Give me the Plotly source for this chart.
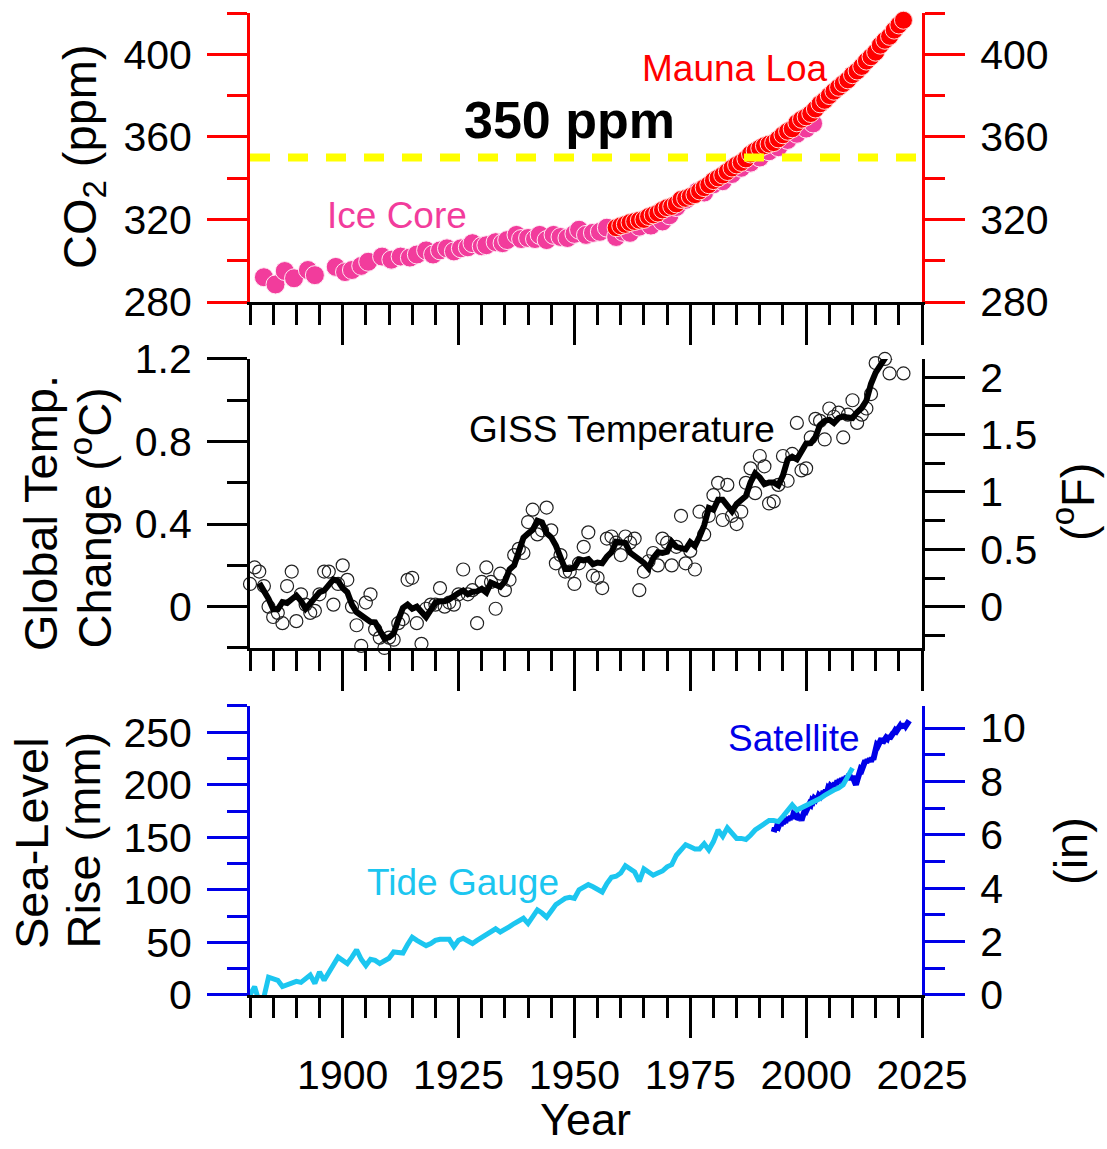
import numpy as np
import plotly.graph_objects as go

# ---------------- DATA ----------------
# CO2 (ppm) - ice core (pink) and Mauna Loa (red)
ice_years = [1883.0, 1885.5, 1887.5, 1889.5, 1892.5, 1894.0, 1898.5, 1900.5, 1902.0, 1904.0,
             1905.5, 1908.5, 1910.5, 1912.5, 1914.5, 1916.0, 1918.0, 1919.5, 1921.0, 1922.5,
             1924.0, 1925.5, 1927.0, 1928.0, 1930.0, 1931.0, 1933.0, 1934.5, 1935.5, 1937.5,
             1938.5, 1940.0, 1941.5, 1942.5, 1944.0, 1945.5, 1947.0, 1948.5, 1950.0, 1951.0,
             1952.5, 1954.0, 1955.5, 1957.0, 1959.0, 1960.5, 1962.0, 1964.0, 1966.5, 1969.0,
             1970.5, 1972.0, 1974.0, 1976.5, 1978.0, 1980.0, 1982.0, 1984.0, 1986.0, 1988.0,
             1990.0, 1992.0, 1994.0, 1996.0, 1998.0, 2000.0, 2001.5]
ice_co2 = [292.0, 288.5, 295.0, 291.5, 295.5, 293.0, 297.0, 294.5, 295.5, 297.5,
           299.5, 302.0, 300.5, 302.0, 301.5, 303.0, 305.0, 303.0, 305.0, 306.0,
           304.5, 306.0, 306.5, 308.5, 307.0, 307.5, 309.0, 308.5, 310.0, 312.5,
           310.5, 311.0, 310.5, 312.5, 310.0, 312.5, 311.5, 311.0, 313.0, 315.0,
           312.5, 313.5, 314.0, 316.0, 311.5, 314.0, 313.5, 316.5, 317.0, 319.0,
           322.0, 326.0, 329.5, 333.5, 333.0, 337.0, 338.5, 342.0, 345.0, 347.5,
           350.0, 353.0, 355.0, 358.5, 361.5, 364.0, 366.5]

ml_years = list(range(1959, 2022))
ml_co2 = [316.0, 316.9, 317.6, 318.5, 319.0, 319.6, 320.0, 321.4, 322.2, 323.1,
          324.6, 325.7, 326.3, 327.5, 329.7, 330.2, 331.1, 332.0, 333.8, 335.4,
          336.8, 338.8, 340.1, 341.5, 343.2, 344.9, 346.4, 347.6, 349.3, 351.7,
          353.2, 354.5, 355.7, 356.5, 357.2, 359.0, 361.0, 362.7, 363.9, 366.8,
          368.5, 369.7, 371.3, 373.5, 376.0, 377.7, 380.0, 382.1, 384.0, 385.8,
          387.6, 390.1, 391.9, 394.1, 396.7, 398.8, 401.0, 404.4, 406.8, 408.7,
          411.7, 414.2, 416.5]
co2_target = 350

# Global temperature change (deg C), GISS annual values
temp_years = list(range(1880, 2022))
temp_anom = [0.11, 0.19, 0.17, 0.10, 0.00, -0.05, -0.03, -0.08, 0.10, 0.17,
             -0.07, 0.06, 0.01, -0.03, -0.02, 0.06, 0.17, 0.17, 0.01, 0.11,
             0.20, 0.13, 0.00, -0.09, -0.19, 0.02, 0.06, -0.11, -0.15, -0.20,
             -0.15, -0.16, -0.08, -0.06, 0.13, 0.14, -0.08, -0.18, -0.01, 0.01,
             0.01, 0.09, 0.00, 0.02, 0.01, 0.06, 0.18, 0.06, 0.08, -0.08,
             0.12, 0.19, 0.12, -0.01, 0.16, 0.08, 0.13, 0.25, 0.28, 0.26,
             0.41, 0.47, 0.35, 0.37, 0.48, 0.37, 0.21, 0.25, 0.17, 0.17,
             0.11, 0.21, 0.29, 0.36, 0.15, 0.14, 0.09, 0.33, 0.34, 0.31,
             0.25, 0.34, 0.31, 0.33, 0.08, 0.17, 0.22, 0.26, 0.20, 0.33,
             0.31, 0.20, 0.29, 0.44, 0.21, 0.27, 0.18, 0.46, 0.35, 0.44,
             0.54, 0.60, 0.42, 0.59, 0.44, 0.40, 0.46, 0.60, 0.67, 0.55,
             0.73, 0.68, 0.50, 0.51, 0.59, 0.73, 0.61, 0.74, 0.89, 0.66,
             0.67, 0.82, 0.91, 0.90, 0.81, 0.96, 0.92, 0.94, 0.82, 0.93,
             1.00, 0.89, 0.93, 0.96, 1.03, 1.18, 1.30, 1.20, 1.13, 1.26,
             1.30, 1.13]
smooth_window = 5  # the black curve is the 5-year running mean of the annual values

# Sea-level rise (mm)
tide_years = list(range(1880, 2011))
tide_mm = [0, 8, -7, -2, 17, 16, 14, 8, 10, 12,
           13, 12, 15, 19, 11, 22, 14, 22, 30, 36,
           33, 30, 36, 43, 34, 28, 34, 33, 30, 32,
           35, 41, 40, 40, 48, 55, 52, 50, 47, 49,
           52, 53, 53, 53, 46, 52, 54, 51, 49, 52,
           55, 57, 60, 63, 60, 62, 65, 68, 70, 73,
           68, 74, 81, 78, 74, 80, 86, 89, 92, 93,
           92, 100, 103, 105, 103, 101, 98, 106, 112, 113,
           116, 123, 120, 117, 108, 120, 117, 114, 116, 118,
           122, 124, 133, 138, 143, 141, 139, 139, 144, 138,
           146, 157, 151, 159, 154, 149, 149, 148, 152, 157,
           160, 163, 166, 166, 165, 170, 176, 181, 176, 178,
           181, 183, 185, 187, 190, 193, 195, 197, 200, 208,
           216]

sat_start, sat_step = 1993.0, 0.25
sat_mm = [155, 159, 157, 161, 160, 163, 161, 165, 163, 166, 164, 168,
          166, 169, 167, 170, 168, 172, 171, 174, 172, 170, 167, 169,
          166, 170, 172, 176, 175, 179, 178, 182, 181, 185, 184, 187,
          186, 189, 187, 190, 189, 192, 190, 194, 192, 195, 193, 197,
          196, 199, 198, 201, 199, 202, 200, 204, 202, 205, 203, 206,
          204, 207, 205, 208, 206, 210, 208, 205, 208, 206, 202, 200,
          204, 209, 212, 215, 214, 218, 220, 223, 221, 224, 222, 225,
          222, 226, 224, 230, 233, 238, 237, 241, 242, 244, 240, 243,
          242, 245, 244, 247, 244, 247, 246, 249, 250, 252, 251, 254,
          253, 256, 254, 257, 255, 258, 256, 259, 258, 261]
sat_years = [sat_start + sat_step * i for i in range(len(sat_mm))]

# Axes / ticks
x_range = [1880, 2025]
x_major = [1900, 1925, 1950, 1975, 2000, 2025]
co2_range = [280, 420]
co2_major = [280, 320, 360, 400]
co2_minor = [300, 340, 380, 420]
temp_range = [-0.2, 1.2]
temp_major = [0, 0.4, 0.8, 1.2]
temp_major_text = ["0", "0.4", "0.8", "1.2"]
temp_minor = [-0.2, 0.2, 0.6, 1.0]
degF_major = [0, 0.5, 1, 1.5, 2]
degF_major_text = ["0", "0.5", "1", "1.5", "2"]
degF_minor = [-0.25, 0.25, 0.75, 1.25, 1.75]
sea_range = [0, 275]
sea_major = [0, 50, 100, 150, 200, 250]
sea_minor = [25, 75, 125, 175, 225, 275]
in_major = [0, 2, 4, 6, 8, 10]
in_minor = [1, 3, 5, 7, 9]
C_TO_F = 1.8
MM_PER_IN = 25.4

# ---------------- STYLE ----------------
FONT = "Arial, Liberation Sans, sans-serif"
RED = "#FF0000"
PINK = "#F23C9C"
BLUE = "#0000E8"
CYAN = "#1CC6F0"
YELLOW = "#FFFF00"
TICK_FS = 41
TITLE_FS = 47
LBL_FS = 37

temp_smooth = np.convolve(np.array(temp_anom), np.ones(smooth_window) / smooth_window, mode="valid")
half = smooth_window // 2
temp_smooth_years = temp_years[half:len(temp_years) - half]

fig = go.Figure()

# Panel 1: CO2
fig.add_trace(go.Scatter(x=ice_years, y=ice_co2, mode="markers", xaxis="x", yaxis="y",
                         marker=dict(size=19, color=PINK, line=dict(color="#FFEAF4", width=1)),
                         showlegend=False, hoverinfo="skip", cliponaxis=False))
fig.add_trace(go.Scatter(x=ml_years, y=ml_co2, mode="markers", xaxis="x", yaxis="y",
                         marker=dict(size=18, color=RED, line=dict(color="#FFDADA", width=1)),
                         showlegend=False, hoverinfo="skip", cliponaxis=False))
fig.add_trace(go.Scatter(x=[None], y=[None], xaxis="x", yaxis="y2", showlegend=False,
                         hoverinfo="skip"))

# Panel 2: temperature
fig.add_trace(go.Scatter(x=temp_years, y=temp_anom, mode="markers", xaxis="x2", yaxis="y3",
                         marker=dict(size=13, symbol="circle-open", color="#222222", line=dict(width=1.2)),
                         showlegend=False, hoverinfo="skip", cliponaxis=False))
fig.add_trace(go.Scatter(x=temp_smooth_years, y=temp_smooth, mode="lines", xaxis="x2", yaxis="y3",
                         line=dict(color="black", width=6), showlegend=False, hoverinfo="skip",
                         cliponaxis=False))
fig.add_trace(go.Scatter(x=[None], y=[None], xaxis="x2", yaxis="y4", showlegend=False,
                         hoverinfo="skip"))

# Panel 3: sea level
fig.add_trace(go.Scatter(x=sat_years, y=sat_mm, mode="lines", xaxis="x3", yaxis="y5",
                         line=dict(color=BLUE, width=6), showlegend=False, hoverinfo="skip"))
fig.add_trace(go.Scatter(x=tide_years, y=tide_mm, mode="lines", xaxis="x3", yaxis="y5",
                         line=dict(color=CYAN, width=5), showlegend=False, hoverinfo="skip"))
fig.add_trace(go.Scatter(x=[None], y=[None], xaxis="x3", yaxis="y6", showlegend=False,
                         hoverinfo="skip"))

# 350 ppm dashed line
fig.add_shape(type="line", xref="x domain", x0=0, x1=1, yref="y", y0=co2_target, y1=co2_target,
              line=dict(color=YELLOW, width=8, dash="20px,18px"), layer="above")

D1 = [0.7057, 1.0]
D2 = [0.3534, 0.6477]
D3 = [0.0, 0.2943]


def xax(anchor, labels):
    return dict(domain=[0, 1], anchor=anchor, range=x_range, showgrid=False, zeroline=False,
                showline=True, linecolor="black", linewidth=3, automargin=False,
                ticks="outside", tickvals=x_major, ticklen=40, tickwidth=3, tickcolor="black",
                showticklabels=labels, ticklabelstandoff=2,
                tickfont=dict(family=FONT, size=TICK_FS, color="black"),
                minor=dict(ticks="outside", dtick=5, tick0=1880, ticklen=20, tickwidth=3,
                           tickcolor="black", showgrid=False),
                fixedrange=True)


def yax(domain, rng, major, major_text, minor, color, side, overlay=None, anchor="x"):
    d = dict(domain=domain, range=rng, showgrid=False, zeroline=False, showline=True,
             linecolor=color, linewidth=3, ticks="outside", tickvals=major, ticktext=major_text,
             ticklen=40, tickwidth=3, tickcolor=color, side=side, anchor=anchor, automargin=False,
             ticklabelstandoff=7,
             tickfont=dict(family=FONT, size=TICK_FS, color="black"),
             minor=dict(ticks="outside", tickvals=minor, ticklen=20, tickwidth=3, tickcolor=color,
                        showgrid=False),
             fixedrange=True)
    if overlay:
        d["overlaying"] = overlay
    return d


fig.update_layout(
    width=1107, height=1149, autosize=False,
    margin=dict(l=250, r=185, t=13, b=154, pad=0, autoexpand=False),
    paper_bgcolor="white", plot_bgcolor="white",
    font=dict(family=FONT, color="black"),
    showlegend=False,
    xaxis=xax("y", False),
    xaxis2=xax("y3", False),
    xaxis3=xax("y5", True),
    yaxis=yax(D1, co2_range, co2_major, [str(v) for v in co2_major], co2_minor, RED, "left"),
    yaxis2=yax(D1, co2_range, co2_major, [str(v) for v in co2_major], co2_minor, RED, "right",
               overlay="y"),
    yaxis3=yax(D2, temp_range, temp_major, temp_major_text, temp_minor, "black", "left", anchor="x2"),
    yaxis4=yax(D2, [v * C_TO_F for v in temp_range], degF_major, degF_major_text, degF_minor,
               "black", "right", overlay="y3", anchor="x2"),
    yaxis5=yax(D3, sea_range, sea_major, [str(v) for v in sea_major], sea_minor, BLUE, "left",
               anchor="x3"),
    yaxis6=yax(D3, [v / MM_PER_IN for v in sea_range], in_major, [str(v) for v in in_major], in_minor,
               BLUE, "right", overlay="y5", anchor="x3"),
)

PL, PR = 250, 922
PT, PB = 13, 995


def px(xp):
    return (xp - PL) / (PR - PL)


def py(yp):
    return (PB - yp) / (PB - PT)


ann = []
# in-panel labels
ann.append(dict(text="Ice Core", x=1911.7, y=321.7, xref="x", yref="y", showarrow=False,
                font=dict(family=FONT, size=LBL_FS, color=PINK)))
ann.append(dict(text="Mauna Loa", x=1984.7, y=392.9, xref="x", yref="y", showarrow=False,
                font=dict(family=FONT, size=LBL_FS, color=RED)))
ann.append(dict(text="<b>350 ppm</b>", x=1949, y=368.2, xref="x", yref="y", showarrow=False,
                font=dict(family=FONT, size=52, color="black")))
ann.append(dict(text="GISS Temperature", x=1960.3, y=0.857, xref="x2", yref="y3", showarrow=False,
                font=dict(family=FONT, size=LBL_FS, color="black")))
ann.append(dict(text="Tide Gauge", x=1926, y=107.5, xref="x3", yref="y5", showarrow=False,
                font=dict(family=FONT, size=LBL_FS, color=CYAN)))
ann.append(dict(text="Satellite", x=1997.4, y=244.5, xref="x3", yref="y5", showarrow=False,
                font=dict(family=FONT, size=LBL_FS, color=BLUE)))


# axis titles
def title(text, xp, yp, xa="center", ya="middle", angle=-90, size=TITLE_FS):
    ann.append(dict(text=text, x=px(xp), y=py(yp), xref="paper", yref="paper", showarrow=False,
                    textangle=angle, xanchor=xa, yanchor=ya, borderpad=0,
                    font=dict(family=FONT, size=size, color="black")))


title("CO<sub>2</sub> (ppm)", 83, 157)
title("Global Temp.", 40, 652, ya="bottom")
title("Change (<sup>o</sup>C)", 91, 650, ya="bottom")
title("Sea-Level", 31, 950, ya="bottom")
title("Rise (mm)", 83, 950, ya="bottom")
title("(<sup>o</sup>F)", 1074, 502)
title("(in)", 1070, 851)
title("Year", 585, 1146, ya="bottom", angle=0, size=45)

fig.update_layout(annotations=ann)

fig.write_html("out.html", config={"displayModeBar": False},
               post_script="document.body.style.margin='0';document.body.style.overflow='hidden';")
